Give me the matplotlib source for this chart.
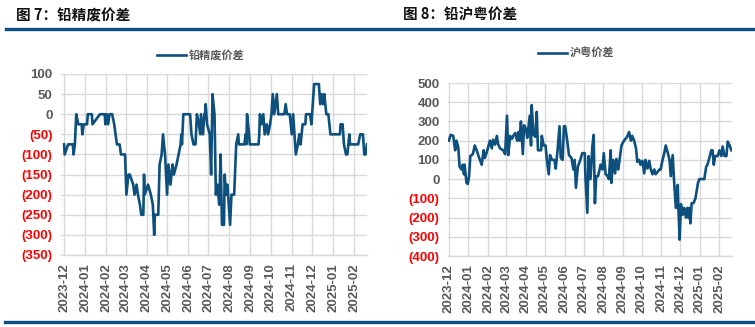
import numpy as np
import pandas as pd
import matplotlib
matplotlib.use('Agg')
import matplotlib.pyplot as plt
from matplotlib.ticker import FuncFormatter, FixedLocator
import matplotlib.dates as mdates

plt.rcParams['font.family'] = ['Liberation Sans', 'Noto Sans CJK SC', 'DejaVu Sans']

start = pd.Timestamp('2023-12-01')

# 铅精废价差 : days since 2023-12-01, value
jf_days = [0, 1, 6, 13, 14, 16, 18, 21, 26, 27, 29, 34, 35, 41, 42, 53, 60, 61, 63, 65,
           67, 71, 74, 76, 78, 82, 84, 90, 92, 95, 97, 102, 104, 107, 109, 112, 114, 117, 118, 119,
           124, 128, 131, 133, 134, 139, 141, 144, 146, 149, 152, 154, 157, 160, 162, 166, 169, 172, 173, 174,
           176, 186, 188, 191, 194, 196, 199, 201, 202, 205, 207, 208, 209, 211, 215, 217, 219, 222, 224, 226,
           229, 231, 233, 236, 237, 239, 241, 242, 245, 247, 251, 254, 257, 258, 266, 268, 269, 270, 273, 274,
           287, 288, 289, 291, 294, 296, 299, 301, 304, 306, 308, 310, 312, 314, 316, 325, 327, 329, 333, 336,
           338, 342, 345, 347, 349, 352, 356, 357, 363, 365, 369, 376, 378, 380, 382, 384, 387, 390, 393, 407,
           408, 411, 413, 416, 418, 421, 422, 434, 437, 441, 443, 445, 447]
jf_vals = [-75, -100, -75, -75, -100, -75, 0, -25, -25, -50, -25, -25, 0, 0, -25, 0, 0, -25, 0, -25,
           0, 0, -25, -50, -75, -75, -100, -100, -200, -150, -150, -175, -200, -175, -200, -225, -250, -250, -150, -200,
           -175, -200, -225, -300, -250, -250, -125, -100, -50, -100, -200, -125, -175, -125, -150, -125, -100, -75, -50, -75,
           0, 0, -50, -75, -75, 0, -25, -50, 0, -50, 0, 0, 25, -25, -50, -150, 50, 0, -200, -175,
           -225, -100, -275, -275, -150, -200, -175, -200, -275, -200, -200, -75, -50, -75, -75, -50, -75, 0, -50, -75,
           -75, -50, 0, -25, 0, -50, -25, -50, -25, 0, 50, 0, 25, 50, 0, 0, 25, 0, 0, -50,
           0, -100, -75, -50, -75, -25, -25, 0, 0, -25, 75, 75, 25, 50, 25, 50, 0, 0, -50, -50,
           -25, -25, -75, -100, -100, -50, -75, -75, -50, -50, -100, -100, -75]

# 铅沪粤价差 : days since 2023-12-01, value
hy_days = [0, 3, 7, 10, 12, 15, 17, 20, 22, 24, 25, 28, 30, 32, 34, 38, 41, 44, 48, 52,
           55, 57, 60, 65, 68, 70, 73, 76, 78, 81, 86, 89, 92, 94, 97, 100, 102, 105, 108, 110,
           112, 114, 117, 119, 122, 124, 128, 130, 131, 134, 137, 139, 141, 146, 147, 150, 153, 155, 158, 160,
           163, 167, 169, 172, 175, 177, 180, 182, 184, 187, 190, 194, 197, 199, 201, 204, 208, 211, 215, 216,
           219, 221, 224, 227, 229, 231, 233, 236, 240, 243, 245, 248, 251, 253, 256, 257, 260, 263, 265, 268,
           270, 273, 277, 282, 285, 288, 290, 293, 296, 298, 301, 303, 306, 309, 311, 314, 317, 319, 322, 325,
           327, 333, 335, 338, 341, 343, 346, 349, 351, 354, 356, 359, 362, 363, 365, 367, 370, 372, 375, 377,
           379, 380, 382, 384, 387, 390, 394, 396, 404, 407, 409, 412, 415, 417, 419, 421, 425, 428, 431, 433,
           436, 439, 441, 444, 447]
hy_vals = [200, 230, 225, 150, 200, 165, 65, 50, 75, 25, 75, -20, -25, 15, 120, 130, 175, 150, 110, 75,
           150, 110, 140, 200, 160, 205, 180, 225, 180, 160, 150, 130, 330, 125, 225, 210, 225, 240, 200, 245,
           200, 300, 130, 280, 260, 215, 330, 175, 385, 230, 220, 350, 150, 150, 225, 175, 175, 100, 25, 125,
           100, 100, 55, 150, 275, 110, 100, 275, 275, 205, 125, 110, 50, 100, -45, 65, 100, 135, 135, 15,
           -175, 120, 0, 170, 230, -125, 15, 15, 75, 50, 135, 25, 15, 0, 150, -20, 100, 30, 105, 50,
           100, 175, 200, 220, 245, 200, 225, 200, 160, 90, 100, 75, 95, 30, 100, 55, 95, 55, 25, 50,
           25, 50, 50, 100, 140, 175, 140, 100, 15, 125, 0, -150, -30, -150, -315, -130, -185, -150, -200, -150,
           -200, -150, -230, -125, -125, -100, -20, 0, 0, 65, 75, 110, 150, 150, 75, 120, 120, 150, 120, 170,
           120, 120, 195, 175, 150]

months = pd.date_range('2023-12-01', '2025-02-01', freq='MS')

line_c = '#0d4f7d'
grid_c = '#d9d9d9'
txt_c = '#595959'
bar_c = '#0b5283'


def fmt(v, pos):
    v = int(round(v))
    if v < 0:
        return '(%d)' % abs(v)
    return '%d' % v


def draw(ax, days, vals, name, yticks, x_pad, leg_xy):
    dates = start + pd.to_timedelta(days, unit='D')
    ax.plot(dates, vals, color=line_c, lw=1.9, label=name, solid_joinstyle='round')
    ax.set_ylim(yticks[0], yticks[-1])
    ax.yaxis.set_major_locator(FixedLocator(yticks))
    ax.yaxis.set_major_formatter(FuncFormatter(fmt))
    ax.set_xlim(start - pd.Timedelta(days=x_pad), start + pd.Timedelta(days=days[-1]))
    ax.set_xticks(months)
    ax.xaxis.set_major_formatter(mdates.DateFormatter('%Y-%m'))
    ax.grid(True, color=grid_c, lw=1.0)
    ax.set_axisbelow(True)
    for s in ['top', 'right', 'left']:
        ax.spines[s].set_visible(False)
    ax.spines['bottom'].set_color(grid_c)
    ax.spines['bottom'].set_linewidth(1.0)
    ax.tick_params(length=0, pad=6, labelsize=9.5)
    for lab in ax.get_xticklabels():
        lab.set_rotation(90)
        lab.set_fontweight('bold')
        lab.set_color(txt_c)
    for t, lab in zip(yticks, ax.get_yticklabels()):
        lab.set_fontweight('bold')
        lab.set_color('#ff0000' if t < 0 else txt_c)
    leg = ax.legend(loc='center', bbox_to_anchor=leg_xy, bbox_transform=fig.transFigure,
                    frameon=False, handlelength=2.6, handletextpad=0.3, borderaxespad=0,
                    prop={'family': ['Noto Sans CJK SC'], 'weight': 'bold', 'size': 8})
    for t in leg.get_texts():
        t.set_color(txt_c)


fig = plt.figure(figsize=(7.55, 3.27), dpi=100)

ax1 = fig.add_axes([61 / 755, 1 - 255 / 327, 306 / 755, 181 / 327])
draw(ax1, jf_days, jf_vals, '铅精废价差', list(range(-350, 101, 50)), 4.5,
     (201 / 755, 1 - 55 / 327))

ax2 = fig.add_axes([448 / 755, 1 - 256 / 327, 283.5 / 755, 173 / 327])
draw(ax2, hy_days, hy_vals, '沪粤价差', list(range(-400, 501, 100)), 1.3,
     (576 / 755, 1 - 53 / 327))

# titles and the blue rules
fig.text(16 / 755, 1 - 15 / 327, '图 7：铅精废价差', fontsize=10.5, fontweight='bold',
         family=['Noto Sans CJK SC'], va='center', ha='left', color='#111111')
fig.text(403 / 755, 1 - 15 / 327, '图 8：铅沪粤价差', fontsize=10.5, fontweight='bold',
         family=['Noto Sans CJK SC'], va='center', ha='left', color='#111111')
fig.add_artist(plt.Line2D([6 / 755, 1], [1 - 29 / 327] * 2, color=bar_c, lw=2.4))
fig.add_artist(plt.Line2D([5 / 755, 1], [1 - 322 / 327] * 2, color=bar_c, lw=2.4))

fig.savefig('out.png', dpi=100)
